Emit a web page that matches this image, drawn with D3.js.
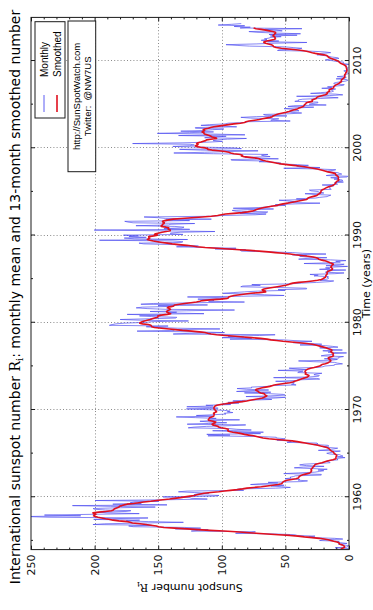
<!DOCTYPE html>
<html>
<head>
<meta charset="utf-8">
<script src="https://cdn.jsdelivr.net/npm/d3@7"></script>
<style>
  html, body { margin: 0; padding: 0; background: #fff; }
  svg { display: block; }
  text { font-family: "DejaVu Sans", sans-serif; }
</style>
</head>
<body>
<svg id="chart" width="373" height="610"></svg>
<script>
// International sunspot number, monthly means from January 1954 to April 2014
const firstYear = 1954;
const monthlyMean = [
  0.2,0.5,10.9,1.8,0.8,0.2,4.8,8.4,1.5,7.0,9.2,7.6,
  23.1,20.8,4.9,11.3,28.9,31.7,26.7,40.7,42.7,58.5,89.2,76.9,
  73.6,124.0,118.4,110.7,136.6,116.6,129.1,169.6,173.2,155.3,201.3,192.1,
  165.0,130.2,157.4,175.2,164.6,200.7,187.2,158.0,235.8,253.8,210.9,239.4,
  202.5,164.9,190.7,196.0,175.3,171.5,191.4,200.2,201.2,181.5,152.3,187.6,
  217.4,143.1,185.7,163.3,172.0,168.7,149.6,199.6,145.2,111.4,124.0,125.0,
  146.3,106.0,102.2,122.0,119.6,110.2,121.7,134.1,127.2,82.8,89.6,85.6,
  57.9,46.1,53.0,61.4,51.0,77.4,70.2,55.9,63.6,37.7,32.6,39.9,
  38.7,50.3,45.6,46.4,43.7,42.0,21.8,21.8,51.3,39.5,26.9,23.2,
  19.8,24.4,17.1,29.3,43.0,35.9,19.6,33.2,38.8,35.3,23.4,14.9,
  15.3,17.7,16.5,8.6,9.5,9.1,3.1,9.3,4.7,6.1,7.4,15.1,
  17.5,14.2,11.7,6.8,24.1,15.9,11.9,8.9,16.8,20.1,15.8,17.0,
  28.2,24.4,25.3,48.7,45.3,47.7,56.7,51.2,50.2,57.2,57.2,70.4,
  110.9,93.6,111.8,69.5,86.5,67.3,91.5,107.2,76.8,88.2,94.3,126.4,
  121.8,111.9,92.2,81.2,127.2,110.3,96.1,109.3,117.2,107.7,86.0,109.8,
  104.4,120.5,135.8,106.8,120.0,106.0,96.8,98.0,91.3,95.7,93.5,97.9,
  111.5,127.8,102.9,109.5,127.5,106.8,112.5,93.0,99.5,86.6,95.2,83.5,
  91.3,79.0,60.7,71.8,57.5,49.8,81.0,61.4,50.2,51.7,63.2,82.2,
  61.5,88.4,80.1,63.2,80.5,88.0,76.5,76.8,64.0,61.3,41.6,45.3,
  43.4,42.9,46.0,57.7,42.4,39.5,23.1,25.6,59.3,30.7,23.9,23.3,
  27.6,26.0,21.3,40.3,39.5,36.0,55.8,33.6,40.2,47.1,25.0,20.5,
  18.9,11.5,11.5,5.1,9.0,11.4,28.2,39.7,13.9,9.1,19.4,7.8,
  8.1,4.3,21.9,18.8,12.4,12.2,1.9,16.4,13.5,20.6,5.2,15.3,
  16.4,23.1,8.7,12.9,18.6,38.5,21.4,30.1,44.0,43.8,29.1,43.2,
  51.9,93.6,76.5,99.7,82.7,95.1,70.4,58.1,138.2,125.1,97.9,122.7,
  166.6,137.5,138.0,101.5,134.4,149.5,159.4,142.2,188.4,186.2,183.3,176.3,
  159.6,155.0,126.2,164.1,179.9,157.3,136.3,135.4,155.0,164.7,147.9,174.4,
  114.0,141.3,135.5,156.4,127.5,90.0,143.8,158.7,167.3,162.4,137.5,150.1,
  111.2,163.6,153.8,122.0,82.2,110.4,106.1,107.6,118.8,94.7,98.1,127.0,
  84.3,51.0,66.5,80.7,99.2,91.1,82.2,71.8,50.3,55.8,33.3,33.4,
  57.0,85.1,83.5,69.7,76.4,46.1,37.4,25.5,15.7,12.0,22.8,18.7,
  16.5,15.9,17.2,16.2,27.5,24.2,30.7,11.1,3.9,18.6,16.2,17.3,
  2.5,23.2,15.1,18.5,13.7,1.1,18.1,7.4,3.8,35.4,15.2,6.8,
  10.4,2.4,14.7,39.6,33.0,17.4,33.9,38.8,33.3,44.6,18.1,36.4,
  44.2,61.8,84.4,85.5,81.2,105.3,88.8,113.6,135.6,118.4,132.6,137.2,
  161.3,165.1,131.4,130.6,138.5,196.2,126.9,168.9,176.7,159.4,173.0,165.5,
  177.3,130.5,140.3,140.3,132.2,105.4,149.4,200.3,125.2,145.5,131.4,129.7,
  136.9,167.5,141.9,140.0,121.3,169.7,173.7,176.3,125.3,144.1,108.2,144.4,
  150.0,161.1,106.7,99.8,73.8,65.2,85.7,64.5,63.9,88.7,91.8,82.6,
  59.3,91.0,69.8,62.2,61.3,49.8,57.9,42.3,22.8,48.1,43.3,47.2,
  55.0,33.7,41.4,26.4,23.0,17.2,16.0,14.3,27.4,34.6,19.8,23.6,
  24.2,29.9,31.1,14.0,14.5,15.6,14.5,14.3,11.8,21.1,9.0,10.0,
  11.5,4.4,9.2,4.8,5.5,11.8,8.2,14.4,1.6,0.9,17.9,13.3,
  5.7,7.6,8.7,15.5,18.5,12.7,10.4,24.4,51.3,22.8,39.0,41.2,
  31.9,40.3,54.8,53.4,56.3,70.7,66.6,92.2,92.9,55.5,74.0,81.9,
  62.0,66.3,68.8,63.7,106.4,137.7,113.5,93.7,71.5,116.7,133.2,84.6,
  90.1,112.9,138.5,125.5,121.6,124.9,170.1,130.5,109.7,99.4,106.8,104.4,
  95.6,80.6,113.5,107.7,96.6,134.0,81.8,106.4,150.7,125.5,106.5,132.2,
  114.1,107.4,98.4,120.7,120.8,88.3,99.6,116.4,109.6,97.5,95.0,81.6,
  79.5,46.2,61.5,60.0,55.2,77.4,85.0,72.7,48.8,65.6,67.2,46.5,
  37.2,46.0,48.9,39.3,41.5,43.2,51.1,40.9,27.7,48.0,43.5,17.9,
  31.3,29.2,24.5,24.4,42.6,39.6,39.9,36.4,22.1,8.5,18.0,41.2,
  15.3,4.9,10.6,30.2,22.3,13.9,12.2,12.9,14.4,10.5,21.4,13.6,
  16.9,10.6,4.8,3.7,11.7,12.0,10.0,6.2,2.4,0.9,1.7,10.1,
  3.3,2.1,9.3,2.9,2.9,3.1,0.5,0.5,1.1,2.9,4.1,0.8,
  1.5,1.4,0.7,1.2,2.9,2.6,3.5,0.0,4.4,4.6,4.2,10.6,
  13.1,18.6,15.4,7.9,8.8,13.5,16.1,19.6,25.2,23.5,21.5,14.4,
  19.0,29.4,56.2,54.4,41.6,37.0,43.9,50.6,78.0,88.0,96.7,73.0,
  58.3,33.1,64.2,55.2,69.0,64.5,66.5,63.0,61.4,53.3,61.8,40.8,
  62.9,38.1,57.9,72.4,78.7,52.5,57.0,66.0,37.0,85.6,77.6,90.3,
  82.0,102.8,92.2,84.7
];

// 13-month smoothed sunspot number, January 1954 to October 2013
const smoothedMean = [
  6.4,5.6,4.2,3.4,3.7,4.2,5.4,7.2,7.8,7.9,9.5,12.0,
  14.2,16.4,19.5,23.4,28.8,35.1,40.1,46.5,55.5,64.4,73.0,81.0,
  88.8,98.5,109.3,118.7,127.4,136.9,145.5,149.6,151.5,155.8,159.6,164.3,
  170.2,172.2,174.3,181.0,185.5,187.9,191.4,194.4,197.3,199.5,200.8,200.1,
  199.0,200.9,201.3,196.8,191.4,186.8,185.2,184.9,183.8,182.2,180.7,180.5,
  178.6,176.9,174.5,169.3,165.2,161.4,155.8,151.3,146.3,141.1,137.2,132.5,
  128.9,125.0,121.6,119.6,117.0,113.9,108.6,102.4,97.9,93.3,87.9,83.7,
  80.2,74.8,68.9,64.3,60.1,55.8,53.1,52.5,52.3,51.4,50.5,48.7,
  45.2,41.8,39.8,39.4,39.2,38.3,36.8,35.0,32.7,30.8,30.0,29.8,
  29.4,29.8,29.8,29.1,28.7,28.2,27.7,27.2,26.9,26.1,23.8,21.3,
  19.5,17.8,15.4,12.7,10.9,10.2,10.3,10.2,9.9,9.6,10.2,11.0,
  11.7,12.0,12.5,13.6,14.6,15.0,15.5,16.4,17.4,19.7,22.3,24.5,
  27.7,31.3,34.5,37.4,40.7,44.7,50.3,56.7,63.1,67.6,70.2,72.7,
  75.0,78.8,82.2,84.6,87.5,91.3,94.1,95.3,95.3,95.0,97.1,100.6,
  102.6,102.9,104.7,107.2,107.6,106.6,105.2,104.8,107.0,109.9,110.6,110.2,
  110.0,109.6,108.0,106.4,106.2,106.1,105.9,106.5,105.4,104.1,104.6,104.9,
  105.6,106.0,106.2,106.1,105.8,105.3,103.9,101.0,97.2,93.9,89.4,84.1,
  80.4,77.8,74.4,70.9,68.1,66.7,65.4,64.6,65.8,66.2,66.8,69.4,
  70.8,71.2,72.4,73.4,72.9,70.5,68.2,65.5,62.2,60.6,58.8,55.1,
  50.9,46.5,44.2,42.7,40.7,39.1,37.5,36.1,34.4,32.6,31.8,31.5,
  32.8,34.4,34.0,33.9,34.6,34.5,34.1,33.1,32.1,30.2,27.5,25.2,
  23.0,22.1,21.3,18.6,16.8,16.0,15.0,14.3,14.4,15.4,16.1,16.3,
  15.2,13.2,12.2,12.6,12.5,12.2,12.9,14.0,14.3,13.5,13.5,14.8,
  16.7,18.1,20.0,22.2,24.2,26.3,29.0,33.4,39.1,45.6,51.9,56.9,
  61.3,64.5,69.6,76.9,83.2,89.4,97.4,104.1,108.4,111.1,113.3,117.7,
  123.7,130.9,136.5,141.2,147.3,153.0,155.0,155.4,155.7,157.8,162.3,164.5,
  163.9,162.6,160.9,158.7,156.3,154.7,152.8,150.3,150.1,150.2,147.7,142.7,
  140.2,141.5,143.0,143.4,142.8,141.4,140.3,141.1,142.8,142.1,138.8,137.7,
  137.0,133.3,129.2,124.3,119.9,117.3,115.2,109.4,101.0,95.7,94.7,94.6,
  92.8,90.3,85.9,81.5,77.1,70.5,65.5,65.8,67.9,68.2,66.8,63.9,
  60.2,56.4,53.0,49.8,47.5,46.4,44.1,39.6,33.9,28.9,24.7,21.7,
  20.5,19.6,18.6,18.3,18.3,18.0,17.4,17.1,17.3,17.3,16.8,15.3,
  13.8,13.1,13.0,13.7,14.3,13.8,13.7,13.2,12.3,13.2,14.9,16.3,
  17.7,19.6,22.2,23.8,24.3,25.7,28.3,32.2,37.6,42.4,46.3,52.0,
  57.9,63.3,70.7,78.0,85.9,94.9,103.9,113.1,119.4,123.2,127.5,133.7,
  139.0,142.9,146.9,150.4,153.8,156.6,158.5,157.7,156.6,157.4,157.5,153.5,
  150.6,152.9,152.1,149.3,147.0,143.8,140.6,140.5,142.1,142.1,141.7,143.9,
  147.6,147.6,146.6,146.5,145.5,145.2,146.3,146.6,144.9,141.7,138.1,131.7,
  123.7,115.4,108.2,103.3,100.3,97.1,90.7,84.0,79.6,76.4,74.4,73.2,
  71.4,69.3,66.7,63.3,59.6,56.1,54.4,51.8,48.3,45.6,42.5,39.6,
  36.5,33.5,32.6,32.2,30.7,28.7,26.4,25.0,24.4,23.4,22.6,22.2,
  22.0,22.0,21.3,20.1,19.1,18.1,17.0,15.4,13.4,12.1,11.4,10.8,
  10.4,10.1,9.7,8.5,8.0,8.5,8.4,8.3,8.4,8.8,9.8,10.4,
  10.5,11.0,13.5,16.5,18.3,20.3,22.6,25.0,28.3,31.8,35.0,39.0,
  43.7,48.9,53.4,56.5,59.4,62.5,65.5,67.8,69.5,70.5,73.0,77.9,
  82.6,84.6,83.8,85.5,90.5,93.1,94.4,97.5,102.3,107.8,111.0,111.1,
  112.9,116.8,119.9,120.8,119.0,118.7,119.8,118.7,116.3,114.5,112.7,112.0,
  108.7,104.1,104.8,107.6,108.6,109.8,111.7,113.6,114.1,114.0,115.5,114.6,
  113.5,114.6,113.3,110.5,108.8,106.2,102.7,98.7,94.6,90.5,85.3,82.1,
  81.0,78.6,74.2,70.4,67.9,65.3,62.0,60.3,59.7,58.4,56.9,54.9,
  52.1,49.3,47.1,45.5,43.8,41.6,40.2,39.2,37.5,35.9,35.3,35.2,
  34.6,33.9,33.5,31.6,28.9,28.8,29.1,27.5,25.9,25.5,24.9,23.0,
  20.8,18.7,17.4,17.1,17.3,16.3,15.3,15.6,15.6,14.2,12.7,12.1,
  12.0,11.6,10.8,9.9,8.7,7.7,7.0,6.1,5.9,6.1,5.7,5.0,
  4.2,3.6,3.3,3.3,3.5,3.2,2.7,2.6,2.2,1.8,1.7,1.7,
  1.8,1.9,2.0,2.2,2.3,2.7,3.6,4.8,6.2,7.0,7.6,8.3,
  9.2,10.6,12.3,13.9,15.4,16.3,16.7,17.4,19.6,23.2,26.5,28.9,
  31.0,33.4,36.9,41.8,47.6,53.2,57.3,59.1,59.6,59.9,61.1,63.4,
  65.5,66.9,66.8,64.6,61.7,58.9,57.8,58.2,58.1,58.6,59.7,59.6,
  58.7,58.4,57.6,57.9,59.9,62.6,65.5,69.0,73.1,75.0
];

const yearTicks = [1960, 1970, 1980, 1990, 2000, 2010];
const yearMinorTicks = [1955, 1965, 1975, 1985, 1995, 2005];
const valueTicks = [0, 50, 100, 150, 200, 250];
const valueMinorTicks = [10, 20, 30, 40, 60, 70, 80, 90, 110, 120, 130, 140, 160, 170, 180, 190, 210, 220, 230, 240];
const legendLabels = ["Monthly", "Smoothed"];
const creditLines = ["http://SunSpotWatch.com", "Twitter:  @NW7US"];

// The chart is laid out landscape (610 x 373) and turned a quarter turn
// counter-clockwise onto the portrait page.
const page = { w: 610, h: 373 };
const plot = { left: 60.4, right: 592.6, top: 31, bottom: 349 };
const colors = { monthly: "#4a4af0", smoothed: "#e0101e", grid: "#8a8a8a", frame: "#1a1a1a" };

const svg = d3.select("#chart");
svg.append("rect").attr("width", 373).attr("height", 610).attr("fill", "#fff");

const g = svg.append("g").attr("transform", `translate(0,${page.w}) rotate(-90)`);

const x = d3.scaleLinear().domain([1954, 2015]).range([plot.left, plot.right]);
const y = d3.scaleLinear().domain([0, 250]).range([plot.bottom, plot.top]);

const monthlySeries = monthlyMean.map((v, i) => ({ t: firstYear + (i + 0.5) / 12, v }));
const smoothedSeries = smoothedMean.map((v, i) => ({ t: firstYear + (i + 0.5) / 12, v }));

// clip region for the data lines
g.append("clipPath").attr("id", "plotClip")
  .append("rect")
  .attr("x", plot.left).attr("y", plot.top)
  .attr("width", plot.right - plot.left).attr("height", plot.bottom - plot.top);

// dotted grid
const grid = g.append("g").attr("stroke", colors.grid).attr("stroke-width", 1)
  .attr("stroke-dasharray", "1,2.2");
grid.selectAll("line.gx").data(yearTicks).join("line").attr("class", "gx")
  .attr("x1", d => Math.round(x(d)) + 0.5).attr("x2", d => Math.round(x(d)) + 0.5)
  .attr("y1", plot.top).attr("y2", plot.bottom);
grid.selectAll("line.gy").data(valueTicks.filter(v => v > 0 && v < 250)).join("line").attr("class", "gy")
  .attr("y1", d => Math.round(y(d)) + 0.5).attr("y2", d => Math.round(y(d)) + 0.5)
  .attr("x1", plot.left).attr("x2", plot.right);

// data lines
const line = d3.line().x(d => x(d.t)).y(d => y(d.v));
const lines = g.append("g").attr("clip-path", "url(#plotClip)");
lines.append("path").datum(monthlySeries)
  .attr("d", line).attr("fill", "none")
  .attr("stroke", colors.monthly).attr("stroke-opacity", 0.75).attr("stroke-width", 0.9)
  .attr("stroke-linejoin", "round");
lines.append("path").datum(smoothedSeries)
  .attr("d", line).attr("fill", "none")
  .attr("stroke", colors.smoothed).attr("stroke-width", 1.6)
  .attr("stroke-linejoin", "round");

// axes: ticks point inward on all four sides
function styleAxis(sel) {
  sel.select(".domain").remove();
  sel.selectAll(".tick line").attr("stroke", colors.frame);
  sel.selectAll(".tick text").attr("fill", "#111").style("font-size", "11px")
    .style("font-family", "'DejaVu Sans', sans-serif");
}
const bottom = g.append("g").attr("transform", `translate(0,${plot.bottom})`)
  .call(d3.axisBottom(x).tickValues(yearTicks).tickFormat(d3.format("d")).tickSize(-4).tickPadding(4));
bottom.call(styleAxis);
g.append("g").attr("transform", `translate(0,${plot.bottom})`)
  .call(d3.axisBottom(x).tickValues(yearMinorTicks).tickFormat("").tickSize(-2)).call(styleAxis);
g.append("g").attr("transform", `translate(0,${plot.top})`)
  .call(d3.axisTop(x).tickValues(yearTicks).tickFormat("").tickSize(-4)).call(styleAxis);
g.append("g").attr("transform", `translate(0,${plot.top})`)
  .call(d3.axisTop(x).tickValues(yearMinorTicks).tickFormat("").tickSize(-2)).call(styleAxis);

const left = g.append("g").attr("transform", `translate(${plot.left},0)`)
  .call(d3.axisLeft(y).tickValues(valueTicks).tickFormat(d3.format("d")).tickSize(-4).tickPadding(5));
left.call(styleAxis);
g.append("g").attr("transform", `translate(${plot.left},0)`)
  .call(d3.axisLeft(y).tickValues(valueMinorTicks).tickFormat("").tickSize(-2)).call(styleAxis);
g.append("g").attr("transform", `translate(${plot.right},0)`)
  .call(d3.axisRight(y).tickValues(valueTicks).tickFormat("").tickSize(-4)).call(styleAxis);
g.append("g").attr("transform", `translate(${plot.right},0)`)
  .call(d3.axisRight(y).tickValues(valueMinorTicks).tickFormat("").tickSize(-2)).call(styleAxis);

// plot frame
g.append("rect")
  .attr("x", plot.left).attr("y", plot.top)
  .attr("width", plot.right - plot.left).attr("height", plot.bottom - plot.top)
  .attr("fill", "none").attr("stroke", colors.frame).attr("stroke-width", 1);

// title with a serif R and subscript i
const title = g.append("text")
  .attr("x", 313).attr("y", 20)
  .attr("text-anchor", "middle")
  .style("font-size", "14px").attr("fill", "#000");
title.append("tspan").text("International sunspot number ");
title.append("tspan").style("font-family", "'DejaVu Serif', serif").text("R");
title.append("tspan").style("font-family", "'DejaVu Serif', serif").style("font-size", "10px").attr("dy", 3).text("i");
title.append("tspan").attr("dy", -3).text(": monthly mean and 13-month smoothed number");

// axis titles
const yLabel = g.append("text")
  .attr("transform", `translate(22,${(plot.top + plot.bottom) / 2}) rotate(-90)`)
  .attr("text-anchor", "middle").attr("dy", "0.35em")
  .style("font-size", "11px").attr("fill", "#000");
yLabel.append("tspan").text("Sunspot number ");
yLabel.append("tspan").style("font-family", "'DejaVu Serif', serif").text("R");
yLabel.append("tspan").style("font-family", "'DejaVu Serif', serif").style("font-size", "8px").attr("dy", 2).text("i");

g.append("text")
  .attr("x", (plot.left + plot.right) / 2).attr("y", 369.5)
  .attr("text-anchor", "middle")
  .style("font-size", "11px").attr("fill", "#000")
  .text("Time (years)");

// legend box
const legend = g.append("g");
legend.append("rect").attr("x", 492).attr("y", 35).attr("width", 96.3).attr("height", 30)
  .attr("fill", "#fff").attr("stroke", colors.frame).attr("stroke-width", 1);
const legendColors = [colors.monthly, colors.smoothed];
const legendWidths = [0.9, 1.6];
legendLabels.forEach((label, i) => {
  const cy = 44 + i * 13;
  legend.append("line").attr("x1", 498).attr("x2", 515).attr("y1", cy).attr("y2", cy)
    .attr("stroke", legendColors[i]).attr("stroke-width", legendWidths[i]);
  legend.append("text").attr("x", 533).attr("y", cy).attr("dy", "0.35em")
    .style("font-family", "'Liberation Sans', Arial, sans-serif")
    .style("font-size", "10px").attr("fill", "#000").text(label);
});

// credit box
const credit = g.append("g");
credit.append("rect").attr("x", 438.3).attr("y", 68).attr("width", 150.7).attr("height", 27.7)
  .attr("fill", "#fff").attr("stroke", colors.frame).attr("stroke-width", 1);
creditLines.forEach((line, i) => {
  credit.append("text").attr("x", 513.6).attr("y", 77 + i * 11).attr("dy", "0.35em")
    .attr("text-anchor", "middle")
    .style("font-family", "'Liberation Sans', Arial, sans-serif").style("font-size", "9.5px")
    .attr("fill", "#000").style("white-space", "pre").text(line);
});
</script>
</body>
</html>
